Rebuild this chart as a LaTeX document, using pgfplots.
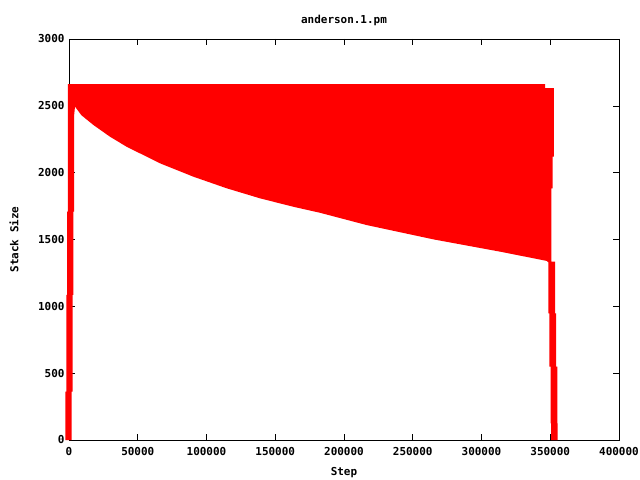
\documentclass[border=0pt]{standalone}
\usepackage{pgfplots}
\pgfplotsset{compat=1.18}
\usepackage{fontspec}
\setmainfont{DejaVu Sans Mono}
\begin{document}
\begin{tikzpicture}
\path[use as bounding box] (-69bp,-40bp) rectangle (571bp,440bp);
\begin{axis}[
  at={(0,0)}, anchor=south west,
  scale only axis, width=550bp, height=401bp,
  xmin=0, xmax=400000, ymin=0, ymax=3000,
  scaled x ticks=false, scaled y ticks=false,
  xtick={0,50000,100000,150000,200000,250000,300000,350000,400000},
  xticklabels={0,50000,100000,150000,200000,250000,300000,350000,400000},
  ytick={0,500,1000,1500,2000,2500,3000},
  yticklabels={0,500,1000,1500,2000,2500,3000},
  tick label style={font=\fontsize{11}{13}\selectfont\bfseries},
  label style={font=\fontsize{11}{13}\selectfont\bfseries},
  title style={font=\fontsize{11}{13}\selectfont\bfseries, at={(axis description cs:0.5,1.032)}, anchor=center},
  title={anderson.1.pm},
  xlabel={Step}, ylabel={Stack Size},
  xlabel style={at={(axis description cs:0.5,-0.082)}, anchor=center},
  ylabel style={at={(axis description cs:-0.1,0.5)}, anchor=center, rotate=0},
  tick align=inside, major tick length=6bp,
  xtick pos=both, ytick pos=both,
  axis line style={line width=0.8pt},
  every tick/.style={black, line width=0.6pt},
  xticklabel style={yshift=-4bp},
  yticklabel style={xshift=-1bp},
  clip=false,
]
\addplot[draw=none, fill=red] coordinates {
(-2700,0) (-2700,361) (-1960,361) (-1960,1085) (-1450,1085) (-1450,1708)
(-730,1708) (-730,2662) (346200,2662) (346200,2632) (352700,2632)
(352700,2120) (351700,2120) (351700,1883) (350800,1883) (350800,1335)
(353500,1335) (353500,948) (354200,948) (354200,549) (355100,549)
(355100,125) (355400,125) (355400,0) (350550,0) (350550,125)
(350300,125) (350300,549) (349300,549) (349300,948) (348600,948)
(348600,1330) (347400,1340) (313500,1409) (265000,1501) (216500,1608)
(182500,1700) (163100,1745) (138900,1808) (114700,1883) (90400,1970)
(66200,2070) (41900,2194) (29800,2269) (17700,2357) (9000,2430) (4360,2494)
(3640,2420) (3640,1708) (3150,1708) (3150,1085) (2690,1085) (2690,361)
(1960,361) (1960,0)
} \closedcycle;
\end{axis}
\end{tikzpicture}
\end{document}
